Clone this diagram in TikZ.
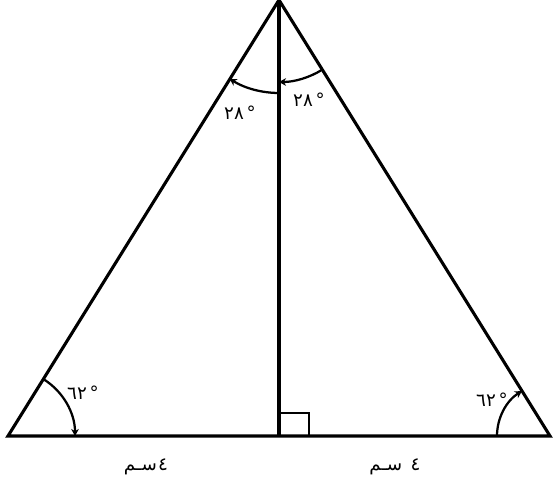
\documentclass[tikz,border=0pt]{standalone}
\usepackage{fontspec}
\newfontfamily\arabicfont[Script=Arabic]{DejaVu Sans}
\TeXXeTstate=1
\usetikzlibrary{arrows.meta}
\tikzstyle{side} = [line width=2.2pt, line join=miter]
\tikzstyle{anglearc} = [-{Stealth[length=5pt,width=5.5pt]}, line width=1.6pt]
\tikzstyle{lbl} = [font=\arabicfont\fontsize{13}{15}\selectfont, inner sep=0pt]
\newcommand{\degs}[1]{\hbox{#1}\kern2pt\hbox{°}}
\newcommand{\cm}[1]{\hbox{سـم}#1\hbox{٤}}

\begin{document}
\begin{tikzpicture}[x=0.025cm, y=0.025cm]
		
		% canvas
		\useasboundingbox (0,0) rectangle (553,480);
		
		\coordinate (A) at (279,480);
		\coordinate (B) at (8,44);
		\coordinate (C) at (550,44);
		\coordinate (H) at (279,44);
		
		% triangle and altitude
		\draw[side] (B) -- (A) -- (C) -- cycle;
		\draw[side] (A) -- (H);
		\draw[line width=1.6pt] ([yshift=23*0.025cm]H) -| ([xshift=30*0.025cm]H);
		
		% angle arcs
		\draw[anglearc] ([shift={(58:67)}]B) arc (58:0:67);
		\draw[anglearc] ([shift={(180:53)}]C) arc (180:122:53);
		\draw[anglearc] ([shift={(270:93)}]A) arc (270:238:93);
		\draw[anglearc] ([shift={(302:82)}]A) arc (302:270:82);
		
		% labels
		\node[lbl] (aL) at (240,367) {\degs{٢٨}};
		\node[lbl] (aR) at (309,380) {\degs{٢٨}};
		\node[lbl] (bL) at (83,87) {\degs{٦٢}};
		\node[lbl] (bR) at (492,80) {\degs{٦٢}};
		\node[lbl] (sL) at (146,13) {\cm{\kern1pt}};
		\node[lbl] (sR) at (395,13) {\cm{\kern6pt}};
		
	\end{tikzpicture}
\end{document}
